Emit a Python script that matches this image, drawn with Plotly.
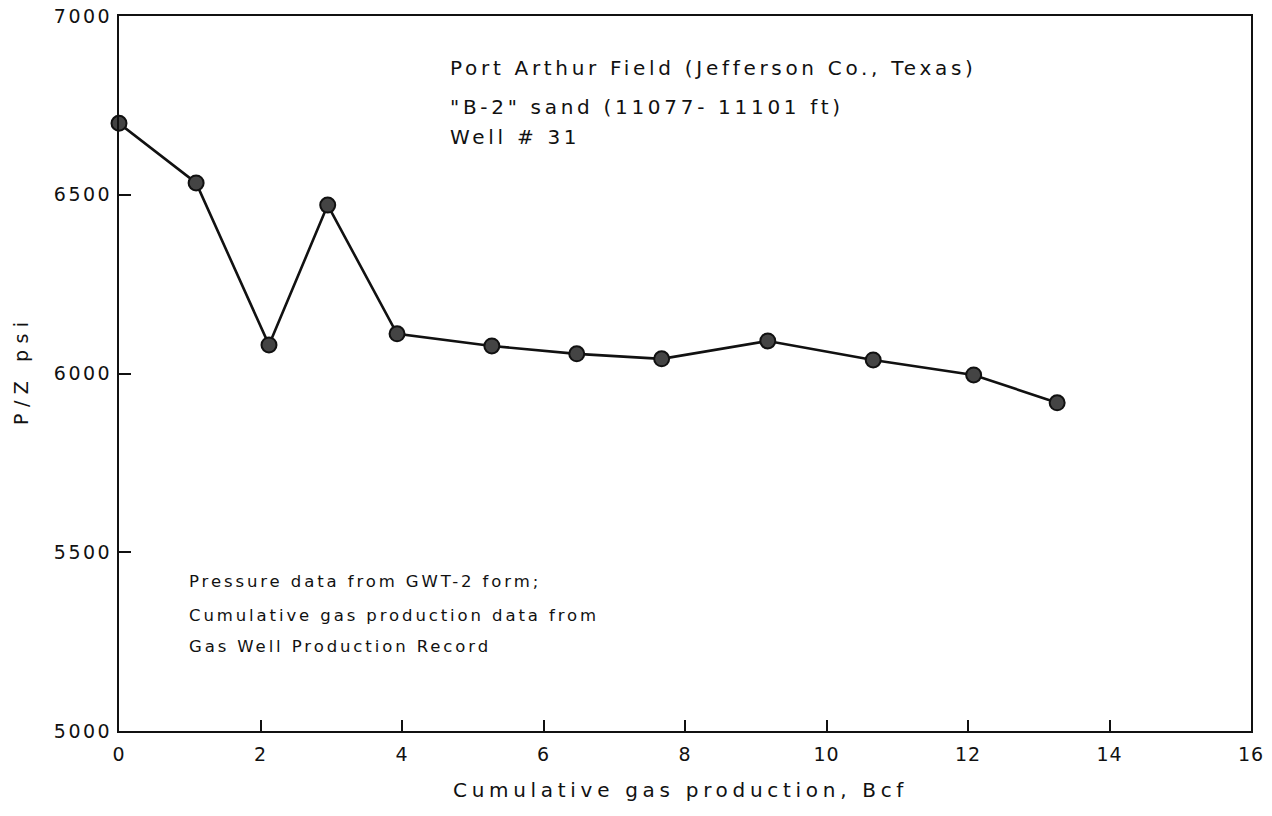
import plotly.graph_objects as go

# Data
cum_gas_bcf = [0, 1.09, 2.12, 2.95, 3.93, 5.27, 6.47, 7.67, 9.17, 10.66, 12.08, 13.26]
p_over_z = [6700, 6533, 6080, 6471, 6111, 6077, 6055, 6041, 6091, 6038, 5996, 5918]

x_ticks = [0, 2, 4, 6, 8, 10, 12, 14, 16]
y_ticks = [5000, 5500, 6000, 6500, 7000]

title_lines = ["Port Arthur Field (Jefferson Co., Texas)",
               "\"B-2\" sand (11077- 11101 ft)",
               "Well # 31"]
note_lines = ["Pressure data from GWT-2 form;",
              "Cumulative gas production data from",
              "Gas Well Production Record"]
x_title = "Cumulative gas production, Bcf"
y_title = "P/Z psi"

FONT = "DejaVu Sans"
INK = "#111111"

# plot area in page pixels: left 119, right 1251, top 16, bottom 731
PL, PR, PT, PB = 119, 1251, 16, 731
title_y_px = [67.5, 107, 137]
note_y_px = [581, 615, 646]


def spaced(t, px):
    return f'<span style="letter-spacing:{px}px">{t}</span>'


def px_x(px):
    return (px - PL) / (PR - PL)


def px_y(px):
    return 1 - (px - PT) / (PB - PT)


fig = go.Figure()
fig.add_trace(go.Scatter(
    x=cum_gas_bcf, y=p_over_z, mode="lines+markers",
    line=dict(color=INK, width=2.6),
    marker=dict(size=15, color="#444444", line=dict(color="#111111", width=2)),
    showlegend=False, cliponaxis=False, hoverinfo="skip",
))

for t, ypx in zip(title_lines, title_y_px):
    fig.add_annotation(text=spaced(t, 3.7), xref="paper", yref="paper",
                       x=px_x(448), y=px_y(ypx),
                       xanchor="left", yanchor="middle", showarrow=False,
                       font=dict(family=FONT, size=20, color=INK))
for t, ypx in zip(note_lines, note_y_px):
    fig.add_annotation(text=spaced(t, 2.9), xref="paper", yref="paper",
                       x=px_x(187), y=px_y(ypx),
                       xanchor="left", yanchor="middle", showarrow=False,
                       font=dict(family=FONT, size=16.5, color=INK))

# axis titles
fig.add_annotation(text=spaced(x_title, 4.7), xref="paper", yref="paper",
                   x=px_x(680), y=px_y(790),
                   xanchor="center", yanchor="middle", showarrow=False,
                   font=dict(family=FONT, size=20, color=INK))
fig.add_annotation(text=spaced(y_title, 6.5), xref="paper", yref="paper",
                   x=px_x(21), y=px_y(370), textangle=-90,
                   xanchor="center", yanchor="middle", showarrow=False,
                   font=dict(family=FONT, size=19, color=INK))

fig.update_xaxes(range=[0, 16], tickvals=x_ticks,
                 ticktext=[spaced(str(v), 1) for v in x_ticks],
                 ticks="inside", ticklen=11, tickwidth=2, tickcolor=INK,
                 showline=True, linecolor=INK, linewidth=2, mirror=True,
                 showgrid=False, zeroline=False,
                 tickfont=dict(family=FONT, size=19, color=INK),
                 ticklabelstandoff=5, ticklabeloverflow="allow")
fig.update_yaxes(range=[5000, 7000], tickvals=y_ticks,
                 ticktext=[spaced(str(v), 2.5) for v in y_ticks],
                 ticks="inside", ticklen=12, tickwidth=2, tickcolor=INK,
                 showline=True, linecolor=INK, linewidth=2, mirror=True,
                 showgrid=False, zeroline=False,
                 tickfont=dict(family=FONT, size=19, color=INK),
                 ticklabelstandoff=1, ticklabeloverflow="allow")

fig.update_layout(width=1272, height=816,
                  margin=dict(l=PL, r=1272 - PR, t=PT, b=816 - PB, autoexpand=False),
                  plot_bgcolor="white", paper_bgcolor="white",
                  font=dict(family=FONT, color=INK), hovermode=False)

# remove the browser's default 8px body margin so the figure sits at the page origin
fig.write_html("out.html", config={"displayModeBar": False},
               post_script="document.body.style.margin='0px';")
